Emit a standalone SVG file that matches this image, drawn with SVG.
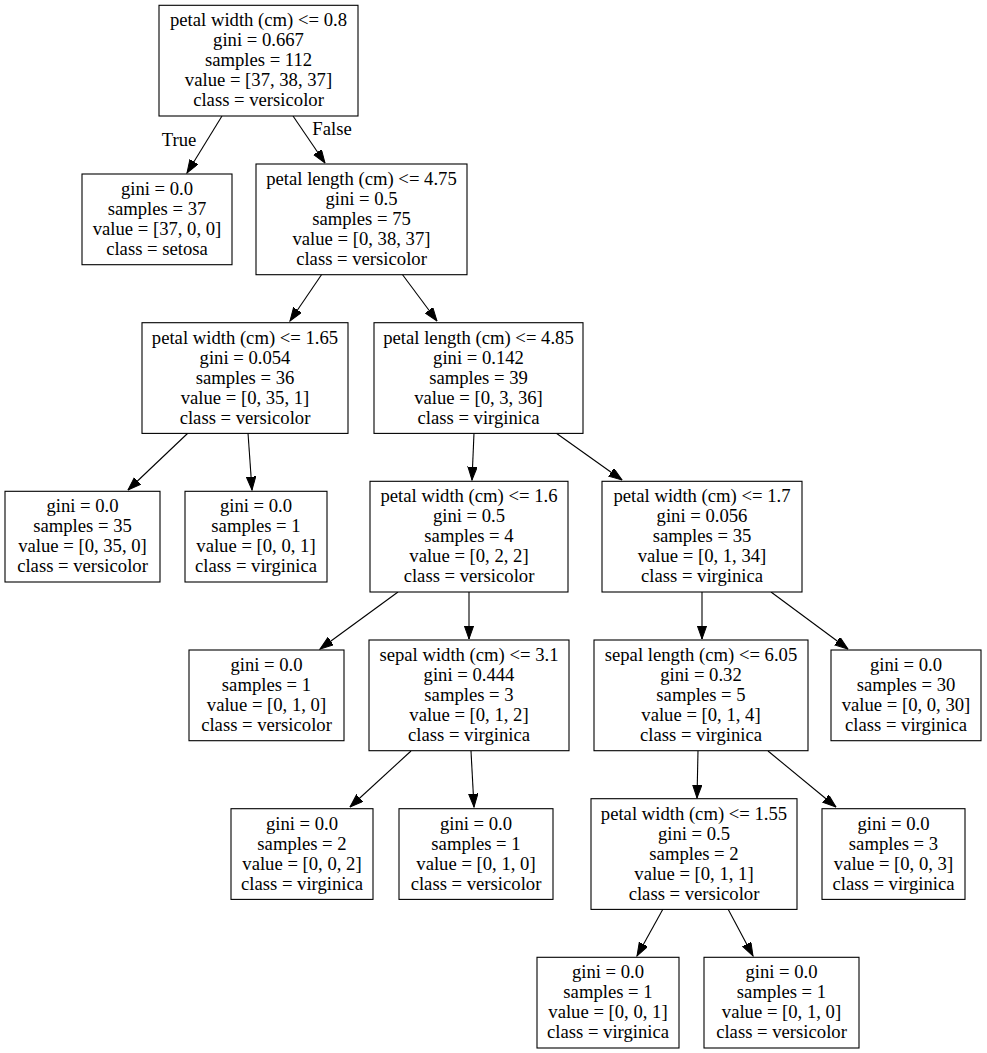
<svg xmlns="http://www.w3.org/2000/svg" width="987" height="1053" viewBox="0 0 987 1053">
<style>
.box{fill:#fff;stroke:#000;stroke-width:1.1}
text{font-family:"Liberation Serif","Times New Roman",serif;font-size:18.67px;text-anchor:middle;fill:#000}
.edge{stroke:#000;stroke-width:1.1;fill:none;marker-end:url(#arr)}
</style>
<defs>
<marker id="arr" markerUnits="userSpaceOnUse" markerWidth="14" markerHeight="10" refX="13.3" refY="4.7" orient="auto">
<path d="M0,0 L13.3,4.7 L0,9.4 z" fill="#000" stroke="#000" stroke-width="1"/>
</marker>
</defs>
<rect width="987" height="1053" fill="#fff"/>
<g id="edges">
<line class="edge" x1="222" y1="116" x2="187" y2="173"/>
<line class="edge" x1="293" y1="116" x2="325" y2="163"/>
<line class="edge" x1="322" y1="274" x2="290" y2="321"/>
<line class="edge" x1="402" y1="274" x2="437" y2="321"/>
<line class="edge" x1="188" y1="433" x2="128" y2="490"/>
<line class="edge" x1="248" y1="433" x2="252" y2="490"/>
<line class="edge" x1="474" y1="433" x2="472" y2="480"/>
<line class="edge" x1="556" y1="433" x2="622" y2="480"/>
<line class="edge" x1="398" y1="592" x2="320" y2="649"/>
<line class="edge" x1="469" y1="592" x2="469" y2="639"/>
<line class="edge" x1="702" y1="592" x2="702" y2="639"/>
<line class="edge" x1="771" y1="592" x2="848" y2="649"/>
<line class="edge" x1="411" y1="751" x2="350" y2="807"/>
<line class="edge" x1="471" y1="751" x2="474" y2="807"/>
<line class="edge" x1="698" y1="751" x2="697" y2="798"/>
<line class="edge" x1="768" y1="751" x2="836" y2="807"/>
<line class="edge" x1="663" y1="909" x2="637" y2="956"/>
<line class="edge" x1="728" y1="909" x2="753" y2="956"/>
<text x="179" y="146">True</text>
<text x="332" y="135">False</text>
</g>
<g id="n0"><rect class="box" x="159" y="5.3" width="199" height="110.7"/>
<text x="258.5" y="26.3">petal width (cm) &lt;= 0.8<tspan x="258.5" dy="20">gini = 0.667</tspan><tspan x="258.5" dy="20">samples = 112</tspan><tspan x="258.5" dy="20">value = [37, 38, 37]</tspan><tspan x="258.5" dy="20">class = versicolor</tspan></text></g>
<g id="n1"><rect class="box" x="82" y="174" width="150" height="90.7"/>
<text x="157" y="194.9">gini = 0.0<tspan x="157" dy="20">samples = 37</tspan><tspan x="157" dy="20">value = [37, 0, 0]</tspan><tspan x="157" dy="20">class = setosa</tspan></text></g>
<g id="n2"><rect class="box" x="256" y="164" width="211" height="110.7"/>
<text x="361.5" y="184.9">petal length (cm) &lt;= 4.75<tspan x="361.5" dy="20">gini = 0.5</tspan><tspan x="361.5" dy="20">samples = 75</tspan><tspan x="361.5" dy="20">value = [0, 38, 37]</tspan><tspan x="361.5" dy="20">class = versicolor</tspan></text></g>
<g id="n3"><rect class="box" x="142" y="322.7" width="206" height="110.7"/>
<text x="245" y="343.6">petal width (cm) &lt;= 1.65<tspan x="245" dy="20">gini = 0.054</tspan><tspan x="245" dy="20">samples = 36</tspan><tspan x="245" dy="20">value = [0, 35, 1]</tspan><tspan x="245" dy="20">class = versicolor</tspan></text></g>
<g id="n4"><rect class="box" x="374" y="322.7" width="209" height="110.7"/>
<text x="478.5" y="343.6">petal length (cm) &lt;= 4.85<tspan x="478.5" dy="20">gini = 0.142</tspan><tspan x="478.5" dy="20">samples = 39</tspan><tspan x="478.5" dy="20">value = [0, 3, 36]</tspan><tspan x="478.5" dy="20">class = virginica</tspan></text></g>
<g id="n5"><rect class="box" x="5" y="491.3" width="155" height="90.7"/>
<text x="82.5" y="512.3">gini = 0.0<tspan x="82.5" dy="20">samples = 35</tspan><tspan x="82.5" dy="20">value = [0, 35, 0]</tspan><tspan x="82.5" dy="20">class = versicolor</tspan></text></g>
<g id="n6"><rect class="box" x="185" y="491.3" width="142" height="90.7"/>
<text x="256" y="512.3">gini = 0.0<tspan x="256" dy="20">samples = 1</tspan><tspan x="256" dy="20">value = [0, 0, 1]</tspan><tspan x="256" dy="20">class = virginica</tspan></text></g>
<g id="n7"><rect class="box" x="370" y="481.3" width="198" height="110.7"/>
<text x="469" y="502.3">petal width (cm) &lt;= 1.6<tspan x="469" dy="20">gini = 0.5</tspan><tspan x="469" dy="20">samples = 4</tspan><tspan x="469" dy="20">value = [0, 2, 2]</tspan><tspan x="469" dy="20">class = versicolor</tspan></text></g>
<g id="n8"><rect class="box" x="602" y="481.3" width="200" height="110.7"/>
<text x="702" y="502.3">petal width (cm) &lt;= 1.7<tspan x="702" dy="20">gini = 0.056</tspan><tspan x="702" dy="20">samples = 35</tspan><tspan x="702" dy="20">value = [0, 1, 34]</tspan><tspan x="702" dy="20">class = virginica</tspan></text></g>
<g id="n9"><rect class="box" x="189" y="650" width="155" height="90.7"/>
<text x="266.5" y="670.9">gini = 0.0<tspan x="266.5" dy="20">samples = 1</tspan><tspan x="266.5" dy="20">value = [0, 1, 0]</tspan><tspan x="266.5" dy="20">class = versicolor</tspan></text></g>
<g id="n10"><rect class="box" x="369" y="640" width="200" height="110.7"/>
<text x="469" y="660.9">sepal width (cm) &lt;= 3.1<tspan x="469" dy="20">gini = 0.444</tspan><tspan x="469" dy="20">samples = 3</tspan><tspan x="469" dy="20">value = [0, 1, 2]</tspan><tspan x="469" dy="20">class = virginica</tspan></text></g>
<g id="n11"><rect class="box" x="594" y="640" width="214" height="110.7"/>
<text x="701" y="660.9">sepal length (cm) &lt;= 6.05<tspan x="701" dy="20">gini = 0.32</tspan><tspan x="701" dy="20">samples = 5</tspan><tspan x="701" dy="20">value = [0, 1, 4]</tspan><tspan x="701" dy="20">class = virginica</tspan></text></g>
<g id="n12"><rect class="box" x="831" y="650" width="150" height="90.7"/>
<text x="906" y="670.9">gini = 0.0<tspan x="906" dy="20">samples = 30</tspan><tspan x="906" dy="20">value = [0, 0, 30]</tspan><tspan x="906" dy="20">class = virginica</tspan></text></g>
<g id="n13"><rect class="box" x="231" y="808.7" width="142" height="90.7"/>
<text x="302" y="829.6">gini = 0.0<tspan x="302" dy="20">samples = 2</tspan><tspan x="302" dy="20">value = [0, 0, 2]</tspan><tspan x="302" dy="20">class = virginica</tspan></text></g>
<g id="n14"><rect class="box" x="399" y="808.7" width="154" height="90.7"/>
<text x="476" y="829.6">gini = 0.0<tspan x="476" dy="20">samples = 1</tspan><tspan x="476" dy="20">value = [0, 1, 0]</tspan><tspan x="476" dy="20">class = versicolor</tspan></text></g>
<g id="n15"><rect class="box" x="591" y="798.7" width="206" height="110.7"/>
<text x="694" y="819.6">petal width (cm) &lt;= 1.55<tspan x="694" dy="20">gini = 0.5</tspan><tspan x="694" dy="20">samples = 2</tspan><tspan x="694" dy="20">value = [0, 1, 1]</tspan><tspan x="694" dy="20">class = versicolor</tspan></text></g>
<g id="n16"><rect class="box" x="822" y="808.7" width="143" height="90.7"/>
<text x="893.5" y="829.6">gini = 0.0<tspan x="893.5" dy="20">samples = 3</tspan><tspan x="893.5" dy="20">value = [0, 0, 3]</tspan><tspan x="893.5" dy="20">class = virginica</tspan></text></g>
<g id="n17"><rect class="box" x="537" y="957.3" width="142" height="90.7"/>
<text x="608" y="978.3">gini = 0.0<tspan x="608" dy="20">samples = 1</tspan><tspan x="608" dy="20">value = [0, 0, 1]</tspan><tspan x="608" dy="20">class = virginica</tspan></text></g>
<g id="n18"><rect class="box" x="704" y="957.3" width="155" height="90.7"/>
<text x="781.5" y="978.3">gini = 0.0<tspan x="781.5" dy="20">samples = 1</tspan><tspan x="781.5" dy="20">value = [0, 1, 0]</tspan><tspan x="781.5" dy="20">class = versicolor</tspan></text></g>
</svg>
